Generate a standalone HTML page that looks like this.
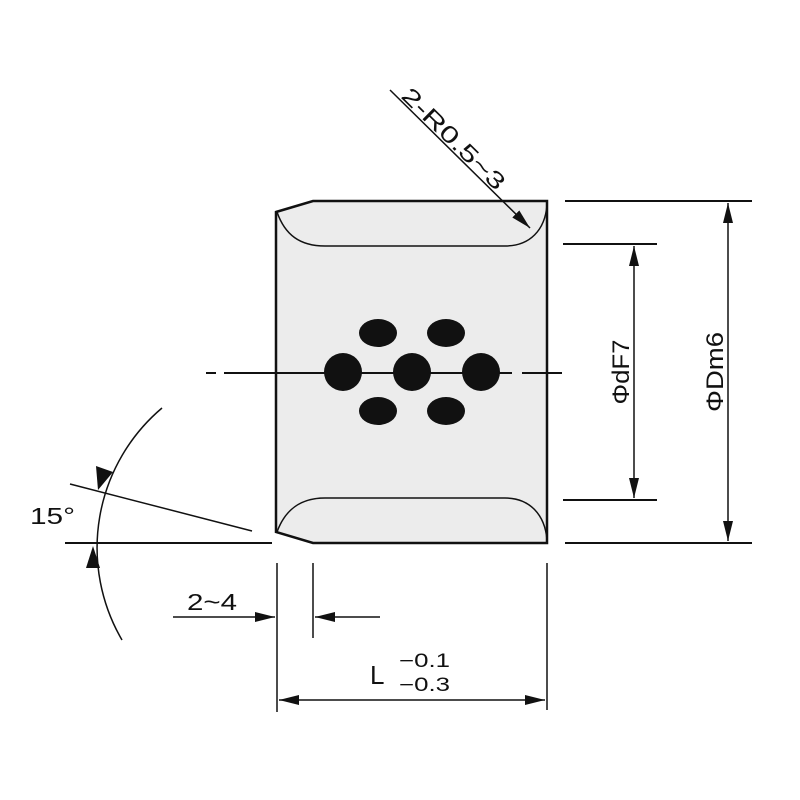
<!DOCTYPE html>
<html><head><style>body{margin:0;background:#fff}svg{display:block}</style></head>
<body>
<svg width="800" height="800" viewBox="0 0 800 800" xmlns="http://www.w3.org/2000/svg" font-family="Liberation Sans, sans-serif">
<defs>
<marker id="a" viewBox="0 0 20 10" refX="20" refY="5" markerWidth="20" markerHeight="10" markerUnits="userSpaceOnUse" orient="auto-start-reverse"><path d="M0,0L20,5L0,10z" fill="#111"/></marker>
</defs>
<g stroke="#111" fill="none">
<path d="M276,212 L313,201 L547,201 L547,543 L313,543 L276,532 Z" fill="#ececec" stroke-width="2.5"/>
<path d="M277,212 C285,235 300,246 325,246 L505,246 C530,246 545,230 547,205" stroke-width="1.5"/>
<path d="M277,532 C285,510 300,498 325,498 L505,498 C530,498 545,515 547,540" stroke-width="1.5"/>
<path d="M206,373H216M224,373H505M505,373H512M522,373H562" stroke-width="2"/>
</g>
<g fill="#111">
<circle cx="343" cy="372" r="19"/><circle cx="412" cy="372" r="19"/><circle cx="481" cy="372" r="19"/>
<ellipse cx="378" cy="333" rx="19" ry="14"/><ellipse cx="446" cy="333" rx="19" ry="14"/>
<ellipse cx="378" cy="411" rx="19" ry="14"/><ellipse cx="446" cy="411" rx="19" ry="14"/>
</g>
<g stroke="#111" fill="none" stroke-width="1.5">
<path d="M565,201H752M565,543H752M563,244H657M563,500H657" stroke-width="2"/>
<line x1="634" y1="246" x2="634" y2="498" marker-start="url(#a)" marker-end="url(#a)"/>
<line x1="728" y1="203" x2="728" y2="541" marker-start="url(#a)" marker-end="url(#a)"/>
<line x1="390" y1="90" x2="530" y2="228" marker-end="url(#a)"/>
<path d="M65,543H272" stroke-width="2"/>
<line x1="70" y1="484" x2="252" y2="531"/>
<path d="M162,408 A183,183 0 0 0 122,640"/>
<path d="M277,563V712M313,563V638M547,563V710"/>
<line x1="173" y1="617" x2="275" y2="617" marker-end="url(#a)"/>
<line x1="380" y1="617" x2="315" y2="617" marker-end="url(#a)"/>
<line x1="279" y1="700" x2="545" y2="700" marker-start="url(#a)" marker-end="url(#a)"/>
</g>
<g fill="#111">
<path d="M113,472 L96,466 L98,490 Z"/>
<path d="M86,568 L100,568 L93,546 Z"/>
</g>
<g fill="#111">
<text x="30" y="524" font-size="23" textLength="45" lengthAdjust="spacingAndGlyphs">15°</text>
<text x="187" y="610" font-size="23" textLength="50" lengthAdjust="spacingAndGlyphs">2~4</text>
<text x="370" y="684" font-size="26">L</text>
<text x="399" y="667" font-size="19" textLength="51" lengthAdjust="spacingAndGlyphs">−0.1</text>
<text x="399" y="691" font-size="19" textLength="51" lengthAdjust="spacingAndGlyphs">−0.3</text>
<text transform="translate(629,372) rotate(-90)" text-anchor="middle" font-size="24" textLength="65" lengthAdjust="spacingAndGlyphs">ΦdF7</text>
<text transform="translate(723,372) rotate(-90)" text-anchor="middle" font-size="24" textLength="80" lengthAdjust="spacingAndGlyphs">ΦDm6</text>
<text transform="translate(400,97) rotate(44.5)" font-size="23" textLength="135" lengthAdjust="spacingAndGlyphs">2-R0.5~3</text>
</g>
</svg>
</body></html>
